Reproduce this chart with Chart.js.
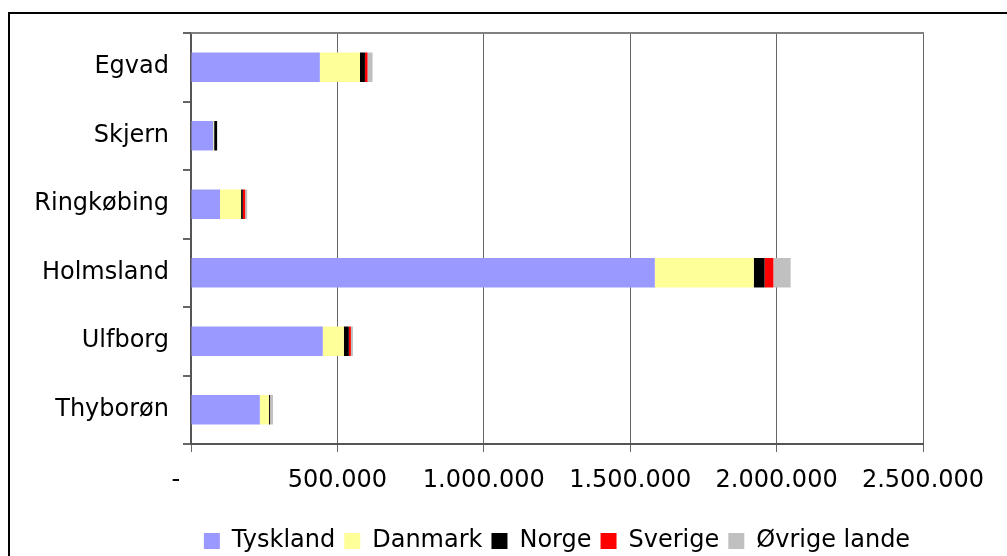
<!DOCTYPE html>
<html>
<head>
<meta charset="utf-8">
<script src="https://cdn.jsdelivr.net/npm/chart.js@4"></script>
<style>
  html, body { margin: 0; padding: 0; background: #fff; overflow: hidden; width: 1007px; height: 556px; }
  #frame { position: absolute; left: 8px; top: 12px; width: 1200px; height: 800px; border: 2px solid #000; box-sizing: border-box; }
  #c { position: absolute; left: 0; top: 0; }
</style>
</head>
<body>
<div id="frame"></div>
<canvas id="c" width="1007" height="563"></canvas>
<script>
const categories = ['Egvad', 'Skjern', 'Ringkøbing', 'Holmsland', 'Ulfborg', 'Thyborøn'];
const tyskland = [440000, 76000, 99000, 1584000, 450000, 235000];
const danmark  = [137000, 3000, 72000, 338000, 72000, 31000];
const norge    = [17000, 10000, 6000, 37000, 17000, 3500];
const sverige  = [9000, 0, 8000, 30000, 7000, 500];
const ovrige   = [17000, 1000, 7000, 59000, 7000, 10000];
const seriesNames = ['Tyskland', 'Danmark', 'Norge', 'Sverige', 'Øvrige lande'];
const xTickLabels = ['-    ', '500.000', '1.000.000', '1.500.000', '2.000.000', '2.500.000'];

const FONT = 'DejaVu Sans';
const colors = ['#9999FF', '#FFFF99', '#000000', '#FF0000', '#C0C0C0'];
const seriesData = [tyskland, danmark, norge, sverige, ovrige];

const frameTop = {
  id: 'frameTop',
  afterDatasetsDraw(chart) {
    const { ctx, chartArea } = chart;
    ctx.save();
    ctx.strokeStyle = '#808080';
    ctx.lineWidth = 2;
    ctx.beginPath();
    ctx.moveTo(chartArea.left, chartArea.top);
    ctx.lineTo(chartArea.right + 1, chartArea.top);
    ctx.stroke();
    ctx.restore();
  }
};

new Chart(document.getElementById('c'), {
  type: 'bar',
  data: {
    labels: categories,
    datasets: seriesNames.map((name, i) => ({
      label: name,
      data: seriesData[i],
      backgroundColor: colors[i],
      borderWidth: 0,
      categoryPercentage: 1,
      barPercentage: 0.43
    }))
  },
  options: {
    indexAxis: 'y',
    responsive: false,
    animation: false,
    devicePixelRatio: 1,
    layout: { padding: { left: 0, right: 84, top: 33, bottom: 0 } },
    plugins: {
      tooltip: { enabled: false },
      legend: {
        position: 'bottom',
        fullSize: false,
        labels: {
          font: { family: FONT, size: 24 },
          color: '#000',
          boxWidth: 16,
          boxHeight: 16,
          padding: 9
        }
      }
    },
    scales: {
      x: {
        stacked: true,
        min: 0,
        max: 2500000,
        afterFit(scale) { scale.height = 76; },
        ticks: {
          stepSize: 500000,
          font: { family: FONT, size: 24 },
          color: '#000',
          padding: 14,
          maxRotation: 0,
          autoSkip: false,
          callback: (v, i) => xTickLabels[i]
        },
        grid: { color: '#666', lineWidth: 1, tickLength: 8, tickColor: '#666' },
        border: { color: '#555', width: 2 }
      },
      y: {
        stacked: true,
        afterFit(scale) { scale.width = 191; },
        ticks: {
          font: { family: FONT, size: 24 },
          color: '#000',
          padding: 14
        },
        grid: { offset: true, drawOnChartArea: false, tickLength: 8, color: '#666', lineWidth: 2 },
        border: { color: '#555', width: 2 }
      }
    }
  },
  plugins: [frameTop]
});
</script>
</body>
</html>
